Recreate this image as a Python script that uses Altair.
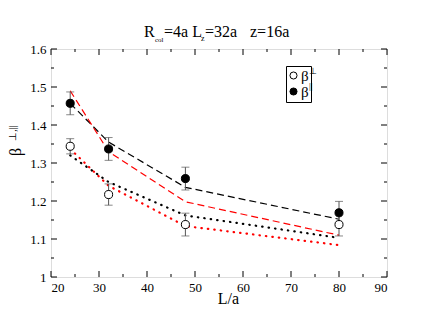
import altair as alt
import pandas as pd

# ---- data ----
L = [24, 32, 48, 80]
beta_perp = [1.344, 1.217, 1.138, 1.138]
beta_perp_err = [0.02, 0.028, 0.03, 0.03]
beta_par = [1.457, 1.337, 1.259, 1.169]
beta_par_err = [0.03, 0.03, 0.03, 0.03]

fit_black_dashed = [1.457, 1.355, 1.236, 1.152]
fit_red_dashed = [1.49, 1.33, 1.198, 1.11]
fit_black_dotted = [1.32, 1.25, 1.162, 1.103]
fit_red_dotted = [1.337, 1.24, 1.134, 1.084]

x_major = [20, 30, 40, 50, 60, 70, 80, 90]
x_minor = [25, 35, 45, 55, 65, 75, 85]
y_major = [1.0, 1.1, 1.2, 1.3, 1.4, 1.5, 1.6]
y_minor = [1.05, 1.15, 1.25, 1.35, 1.45, 1.55]

series_keys = ["perp", "par"]
title_parts = ["R", "col", "=4a L", "z", "=32a", "z=16a"]
ytitle_parts = ["β", "⊥,||"]
legend_sups = ["⊥", "||"]
legend_label = "β\u00a0\u00a0\u00a0\u00a0"

FONT = "Liberation Serif"
W, H = 336, 228

xs = alt.Scale(domain=[20, 90], nice=False, zero=False)
ys = alt.Scale(domain=[1.0, 1.6], nice=False, zero=False)
AX = alt.Axis(values=x_major, ticks=False, domain=False, grid=False,
              labelFont=FONT, labelFontSize=13, labelColor="black", labelPadding=4,
              title="L/a", titleFont=FONT, titleFontSize=16, titleFontWeight="normal",
              titleColor="black", titleX=177, titleY=26, titleBaseline="alphabetic",
              titleAlign="center", titleAnchor="start")
AY = alt.Axis(values=y_major, ticks=False, domain=False, grid=False, format=".1~f",
              labelFont=FONT, labelFontSize=13, labelColor="black", labelPadding=5,
              title=None)

pts = pd.DataFrame({
    "L": L + L,
    "v": beta_perp + beta_par,
    "err": beta_perp_err + beta_par_err,
    "s": [series_keys[0]] * len(L) + [series_keys[1]] * len(L),
})
pts["lo"] = pts["v"] - pts["err"]
pts["hi"] = pts["v"] + pts["err"]

X = alt.X("L:Q", scale=xs, axis=AX)

def line(vals, color, dash, width):
    df = pd.DataFrame({"L": L, "v": vals})
    return alt.Chart(df).mark_line(color=color, strokeDash=dash, strokeWidth=width,
                                   strokeCap="round" if dash[0] < 2 else "butt").encode(
        x=X, y=alt.Y("v:Q", scale=ys, axis=AY))

lines = [
    line(fit_black_dashed, "black", [7, 4], 1.2),
    line(fit_red_dashed, "#ff0000", [7, 4], 1.2),
    line(fit_black_dotted, "black", [0.5, 6], 2.2),
    line(fit_red_dotted, "#ff0000", [0.5, 6], 2.2),
]

err_rule = alt.Chart(pts).mark_rule(color="#555555", strokeWidth=1).encode(
    x=X, y=alt.Y("lo:Q", scale=ys, axis=AY), y2="hi:Q")
cap_lo = alt.Chart(pts).mark_tick(color="#555555", orient="horizontal", size=8, thickness=1).encode(
    x=X, y=alt.Y("lo:Q", scale=ys, axis=AY))
cap_hi = alt.Chart(pts).mark_tick(color="#555555", orient="horizontal", size=8, thickness=1).encode(
    x=X, y=alt.Y("hi:Q", scale=ys, axis=AY))

points = alt.Chart(pts).mark_point(filled=True, stroke="black", strokeWidth=1, size=65,
                                   shape="circle", opacity=1).encode(
    x=X, y=alt.Y("v:Q", scale=ys, axis=AY),
    fill=alt.Fill("s:N", scale=alt.Scale(domain=series_keys, range=["white", "black"]),
                  legend=alt.Legend(orient="none", legendX=235, legendY=17, title=None,
                                    labelExpr="'" + legend_label + "'", strokeColor="black",
                                    padding=2, symbolType="circle", symbolStrokeColor="black",
                                    symbolStrokeWidth=1, symbolSize=50, labelFont=FONT,
                                    labelFontSize=15, labelColor="black", rowPadding=0,
                                    labelOffset=0, symbolOffset=-2)),
)

def ticks_x(vals, length, top):
    df = pd.DataFrame({"t": vals})
    y0 = 0 if top else H
    y1 = length if top else H - length
    return alt.Chart(df).mark_rule(color="black", strokeWidth=1).encode(
        x=alt.X("t:Q", scale=xs, axis=AX), y=alt.value(y0), y2=alt.value(y1))

def ticks_y(vals, length, right):
    df = pd.DataFrame({"t": vals})
    x0 = W if right else 0
    x1 = W - length if right else length
    return alt.Chart(df).mark_rule(color="black", strokeWidth=1).encode(
        y=alt.Y("t:Q", scale=ys, axis=AY), x=alt.value(x0), x2=alt.value(x1))

tick_layers = [
    ticks_x(x_major, 6, False), ticks_x(x_minor, 3, False),
    ticks_x(x_major, 6, True), ticks_x(x_minor, 3, True),
    ticks_y(y_major, 6, False), ticks_y(y_minor, 3, False),
    ticks_y(y_major, 6, True), ticks_y(y_minor, 3, True),
]

def txt(s, x, y, size, angle=0, align="left"):
    df = pd.DataFrame({"t": [s]})
    return alt.Chart(df).mark_text(font=FONT, fontSize=size, color="black", align=align,
                                   baseline="alphabetic", angle=angle).encode(
        text="t:N", x=alt.value(x), y=alt.value(y))

texts = [
    txt(title_parts[0], 93, -12, 16),
    txt(title_parts[1], 104, -7, 7),
    txt(title_parts[2], 113, -12, 16),
    txt(title_parts[3], 150, -8, 8),
    txt(title_parts[4], 154, -12, 16),
    txt(title_parts[5], 199, -12, 16),
    txt(ytitle_parts[0], -30, 103, 16, angle=270, align="center"),
    txt(ytitle_parts[1], -35, 84, 10, angle=270, align="center"),
    txt(legend_sups[0], 258, 25, 9),
    txt(legend_sups[1], 258, 40, 9),
]

chart = alt.layer(*lines, err_rule, cap_lo, cap_hi, points, *tick_layers, *texts).properties(
    width=W, height=H, autosize=alt.AutoSizeParams(type="none"),
    padding={"left": 43, "top": 41, "right": 20, "bottom": 30},
).configure_view(stroke="black", strokeWidth=1).configure(background="white")

chart.save("out.html", embed_options={"renderer": "svg", "actions": False})
